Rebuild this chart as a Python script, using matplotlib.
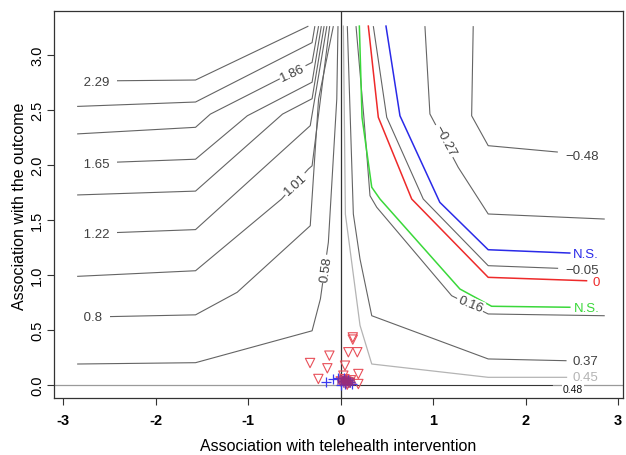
import numpy as np
from matplotlib import pyplot as plt

plt.rcParams["font.family"] = ["Liberation Sans", "DejaVu Sans"]

# Grey contour lines (x = telehealth, y = outcome)
c229_x = [-2.85, -1.57, -0.35]
c229_y = [2.76, 2.77, 3.26]
c208_x = [-2.85, -1.57, -0.31, -0.28]
c208_y = [2.53, 2.57, 3.11, 3.26]
c186_x = [-2.85, -1.57, -1.41, -0.31, -0.24]
c186_y = [2.28, 2.34, 2.46, 2.93, 3.26]
c165_x = [-2.85, -1.57, -1.01, -0.31, -0.21]
c165_y = [2.01, 2.05, 2.445, 2.75, 3.26]
c144_x = [-2.85, -1.57, -0.63, -0.31, -0.18]
c144_y = [1.725, 1.76, 2.46, 2.60, 3.26]
c122_x = [-2.85, -1.57, -0.33, -0.15]
c122_y = [1.37, 1.41, 2.355, 3.26]
c101_x = [-2.85, -1.57, -0.64, -0.35, -0.31, -0.12]
c101_y = [0.985, 1.036, 1.688, 1.961, 1.99, 3.26]
c080_x = [-2.85, -1.57, -1.12, -0.33, -0.24, -0.08]
c080_y = [0.613, 0.635, 0.84, 1.445, 2.597, 3.26]
c058_x = [-2.85, -1.57, -0.31, -0.22, -0.134, -0.043, -0.03]
c058_y = [0.188, 0.20, 0.49, 0.78, 1.295, 2.597, 3.26]
c037_x = [0.071, 0.136, 0.208, 0.335, 1.594, 2.441]
c037_y = [3.26, 1.552, 1.143, 0.627, 0.234, 0.218]
c016_x = [0.165, 0.25, 0.316, 0.389, 1.199, 1.594, 2.854]
c016_y = [3.26, 2.43, 1.718, 1.613, 0.809, 0.643, 0.627]
cm005_x = [0.352, 0.497, 0.892, 1.594, 2.35]
cm005_y = [3.26, 2.431, 1.688, 1.082, 1.058]
cm027_x = [0.91, 0.964, 1.27, 1.594, 2.854]
cm027_y = [3.26, 2.461, 1.976, 1.552, 1.506]
cm048_x = [1.432, 1.415, 1.594, 2.347]
cm048_y = [3.26, 2.445, 2.173, 2.115]

# Special lines
c045_x = [0.028, 0.05, 0.208, 0.335, 1.594, 2.441]
c045_y = [3.26, 1.55, 0.54, 0.188, 0.067, 0.067]
c048_x = [0.0, 2.28]
c048_y = [0.0, 0.0]
zero_x = [0.298, 0.406, 0.767, 1.594, 2.657]
zero_y = [3.26, 2.431, 1.688, 0.976, 0.945]
ns_blue_x = [0.489, 0.640, 1.071, 1.594, 2.476]
ns_blue_y = [3.26, 2.445, 1.658, 1.227, 1.197]
ns_green_x = [0.201, 0.23, 0.335, 0.424, 1.288, 1.631, 2.476]
ns_green_y = [3.26, 2.43, 1.795, 1.688, 0.87, 0.713, 0.704]

# Observed covariates
tri_x = [0.13, 0.13, 0.082, 0.179, -0.123, -0.332, -0.145, 0.046, 0.19,
         -0.242, 0.19, 0.028, 0.06, 0.09, 0.11, 0.04, 0.07, 0.0]
tri_y = [0.43, 0.41, 0.295, 0.295, 0.264, 0.197, 0.149, 0.173, 0.097,
         0.052, 0.006, 0.082, 0.03, 0.02, 0.04, 0.05, 0.0, 0.03]
plus_x = [-0.159, -0.08, -0.03, 0.02, 0.05, 0.08, 0.10, 0.0, 0.04, 0.12]
plus_y = [0.022, 0.052, 0.06, 0.03, 0.01, 0.04, 0.02, 0.0, 0.06, 0.01]
fill_x = [0.0, 0.03, 0.06, 0.09, 0.02, 0.07, 0.11]
fill_y = [0.03, 0.02, 0.04, 0.03, 0.05, 0.01, 0.02]

x_ticks = [-3, -2, -1, 0, 1, 2, 3]
x_tick_labels = ["-3", "-2", "-1", "0", "1", "2", "3"]
y_ticks = [0.0, 0.5, 1.0, 1.5, 2.0, 2.5, 3.0]
y_tick_labels = ["0.0", "0.5", "1.0", "1.5", "2.0", "2.5", "3.0"]

GREY = "#646464"
LABEL = "#404040"
BLUE = "#2a2ae8"
RED = "#ee2a2a"
GREEN = "#3ad83a"
LIGHT = "#b4b4b4"

fig = plt.figure(figsize=(6.26, 4.56), dpi=100)
ax = fig.add_axes([0.0863, 0.125, 0.9087, 0.8476])

# Reference lines
ax.axhline(0, color="#9a9a9a", lw=0.9, zorder=1)
ax.axvline(0, color="#333333", lw=0.9, zorder=1)

# Grey contours
grey_lines = [
    (c229_x, c229_y), (c208_x, c208_y), (c186_x, c186_y), (c165_x, c165_y),
    (c144_x, c144_y), (c122_x, c122_y), (c101_x, c101_y), (c080_x, c080_y),
    (c058_x, c058_y), (c037_x, c037_y), (c016_x, c016_y), (cm005_x, cm005_y),
    (cm027_x, cm027_y), (cm048_x, cm048_y),
]
for xs, ys in grey_lines:
    ax.plot(xs, ys, color=GREY, lw=0.8, zorder=2, solid_capstyle="butt")

ax.plot(c045_x, c045_y, color=LIGHT, lw=0.9, zorder=2)
ax.plot(c048_x, c048_y, color="#222222", lw=0.6, zorder=2)
ax.plot(zero_x, zero_y, color=RED, lw=1.1, zorder=3)
ax.plot(ns_blue_x, ns_blue_y, color=BLUE, lw=1.1, zorder=3)
ax.plot(ns_green_x, ns_green_y, color=GREEN, lw=1.1, zorder=3)

# Contour labels: text, x, y, rotation, colour, size, box padding
# (labels sitting on the left ends get a space each side to break the line)
labels = [
    (" 2.29 ", -2.645, 2.755, 0, LABEL, 9.5, 3.4),
    ("1.86", -0.52, 2.84, 25, LABEL, 9.5, 1.0),
    (" 1.65 ", -2.645, 2.005, 0, LABEL, 9.5, 3.4),
    (" 1.22 ", -2.645, 1.37, 0, LABEL, 9.5, 3.4),
    ("1.01", -0.49, 1.82, 42, LABEL, 9.5, 1.0),
    (" 0.8 ", -2.685, 0.615, 0, LABEL, 9.5, 3.4),
    ("0.58", -0.151, 1.05, 82, LABEL, 9.5, 1.0),
    ("0.37", 2.64, 0.215, 0, LABEL, 9.5, 0.6),
    ("0.45", 2.64, 0.067, 0, LIGHT, 9.5, 0.6),
    ("0.48", 2.51, -0.04, 0, "#111111", 7.5, 0.4),
    ("0.16", 1.40, 0.73, -22, LABEL, 9.5, 1.0),
    ("N.S.", 2.66, 0.70, 0, GREEN, 9.5, 0.6),
    ("\u22120.05", 2.61, 1.04, 0, LABEL, 9.5, 0.3),
    ("0", 2.757, 0.936, 0, RED, 9.5, 0.3),
    ("N.S.", 2.65, 1.188, 0, BLUE, 9.5, 0.6),
    ("\u22120.27", 1.126, 2.218, -62, LABEL, 9.5, 1.0),
    ("\u22120.48", 2.61, 2.08, 0, LABEL, 9.5, 0.6),
]
for text, lx, ly, rot, col, size, pad in labels:
    ax.text(lx, ly, text, rotation=rot, color=col, fontsize=size,
            ha="center", va="center", rotation_mode="anchor", zorder=4,
            bbox=dict(facecolor="white", edgecolor="none", pad=pad))

# Covariate markers
ax.scatter(tri_x, tri_y, marker="v", s=45, facecolors="none",
           edgecolors="#e8505a", linewidths=0.8, zorder=5)
ax.scatter(plus_x, plus_y, marker="+", s=50, color="#3a3af0",
           linewidths=0.9, zorder=5)
ax.scatter(fill_x, fill_y, marker="s", s=26, color="#9a2c78", alpha=0.55,
           linewidths=0, zorder=5)

# Axes setup
ax.set_xlim(-3.1, 3.05)
ax.set_ylim(-0.121, 3.393)
ax.set_xticks(x_ticks)
ax.set_xticklabels(x_tick_labels, fontsize=10.5, fontweight="bold")
ax.set_yticks(y_ticks)
ax.set_yticklabels(y_tick_labels, fontsize=10.5, rotation=90, va="center")
ax.tick_params(direction="out", length=5, width=0.8, color="#333333")
ax.tick_params(axis="x", pad=6)
ax.tick_params(axis="y", pad=2)
for spine in ax.spines.values():
    spine.set_linewidth(0.9)
    spine.set_color("#333333")

fig.text(0.54, 0.004, "Association with telehealth intervention",
         ha="center", va="bottom", fontsize=11.5)
fig.text(0.031, 0.548, "Association with the outcome", ha="center",
         va="center", rotation=90, fontsize=11.5)

fig.savefig("out.png", dpi=100)
